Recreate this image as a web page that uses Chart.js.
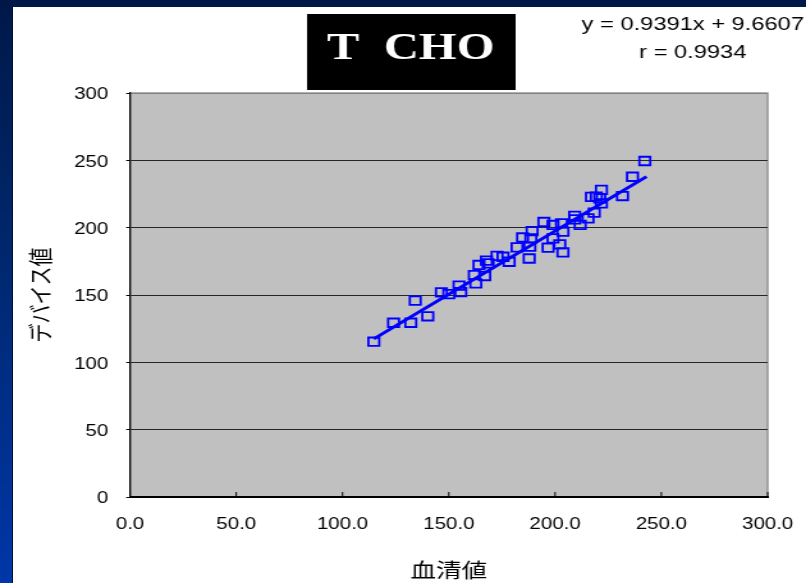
<!DOCTYPE html>
<html lang="ja">
<head>
<meta charset="utf-8">
<title>T CHO</title>
<script src="https://cdn.jsdelivr.net/npm/chart.js@4.4.1/dist/chart.umd.min.js"></script>
<style>
  html, body { margin: 0; padding: 0; }
  body {
    width: 806px; height: 583px; overflow: hidden; position: relative;
    background: linear-gradient(to bottom, #001848 0%, #00286f 45%, #0036a8 100%);
  }
  .panel {
    position: absolute; left: 13px; top: 7px; right: 0; bottom: 0;
    background: #fff; box-shadow: -1px 0 0 #00103a;
  }
  /* the source slide was stretched sideways, so the canvas is too */
  .stage {
    position: absolute; left: 0; top: 0; width: 630px; height: 583px;
    transform: scaleX(1.2794); transform-origin: 0 0;
  }
  canvas { display: block; }
</style>
</head>
<body>
<div class="panel"></div>
<div class="stage">
  <canvas id="chart" width="630" height="583" style="width:630px;height:583px"></canvas>
</div>
<script>
// 血清値 (x) / デバイス値 (y)
const serumValues = [
  114.7, 124.0, 132.1, 134.2, 140.1, 146.5, 150.0, 154.8, 155.6, 162.0,
  162.7, 164.2, 166.9, 167.7, 168.5, 172.7, 175.5, 178.4, 182.1, 184.7,
  187.8, 188.1, 188.6, 189.2, 194.7, 196.7, 199.0, 199.0, 202.2, 203.0,
  203.7, 203.7, 209.2, 209.2, 211.8, 215.5, 218.4, 217.1, 219.4, 221.8,
  221.0, 221.8, 231.7, 236.4, 242.2
];
const deviceValues = [
  115.3, 129.4, 129.4, 145.8, 134.2, 151.9, 150.7, 156.9, 152.1, 164.8,
  158.7, 172.3, 164.1, 175.5, 173.5, 179.0, 178.4, 174.7, 185.4, 192.7,
  177.1, 185.9, 192.1, 197.5, 204.2, 185.1, 202.0, 192.1, 187.6, 203.2,
  197.0, 181.7, 208.7, 206.2, 202.0, 206.9, 211.1, 222.9, 223.0, 228.0,
  221.8, 218.1, 223.5, 237.8, 249.5
];

// regression line end points
const trendX = [114.7, 243.0];
const trendY = [117.4, 237.9];

const xTicks = [0, 50, 100, 150, 200, 250, 300];
const yTicks = [0, 50, 100, 150, 200, 250, 300];

const titleText = 'T  CHO';
const equationLines = ['y = 0.9391x + 9.6607', 'r = 0.9934'];

const SANS = "'Liberation Sans', Arial, sans-serif";
const CJK = "'Noto Sans CJK JP', 'Noto Sans CJK SC', sans-serif";

// gray plot area, frame and inward x ticks
const plotFrame = {
  id: 'plotFrame',
  beforeDraw(chart) {
    const { ctx, chartArea: a } = chart;
    ctx.save();
    ctx.fillStyle = '#c0c0c0';
    ctx.fillRect(a.left, a.top, a.width, a.height);
    ctx.strokeStyle = '#808080';
    ctx.lineWidth = 1.2;
    ctx.strokeRect(a.left, a.top, a.width, a.height);
    ctx.restore();
  },
  beforeDatasetsDraw(chart) {
    const { ctx, chartArea: a, scales: { x } } = chart;
    ctx.save();
    ctx.strokeStyle = '#000';
    ctx.lineWidth = 1;
    x.ticks.forEach(t => {
      const px = x.getPixelForValue(t.value);
      ctx.beginPath();
      ctx.moveTo(px, a.bottom);
      ctx.lineTo(px, a.bottom - 5);
      ctx.stroke();
    });
    ctx.restore();
  }
};

// black title box and regression text
const headerText = {
  id: 'headerText',
  afterDraw(chart) {
    const ctx = chart.ctx;
    ctx.save();
    ctx.fillStyle = '#000';
    ctx.fillRect(240, 14, 163, 76);
    ctx.fillStyle = '#fff';
    ctx.font = "bold 38px 'Liberation Serif', 'DejaVu Serif', serif";
    ctx.textAlign = 'center';
    ctx.textBaseline = 'alphabetic';
    ctx.fillText(titleText, 321, 59);

    ctx.fillStyle = '#000';
    ctx.font = '18.5px ' + SANS;
    ctx.textBaseline = 'middle';
    equationLines.forEach((line, i) => ctx.fillText(line, 541.5, 25 + i * 27.5));
    ctx.restore();
  }
};

new Chart(document.getElementById('chart'), {
  type: 'scatter',
  data: {
    datasets: [
      {
        type: 'line',
        data: trendX.map((x, i) => ({ x, y: trendY[i] })),
        borderColor: '#0000ff',
        borderWidth: 3,
        pointRadius: 0,
        fill: false,
        order: 0
      },
      {
        data: serumValues.map((x, i) => ({ x, y: deviceValues[i] })),
        pointStyle: 'rect',
        pointRadius: 6,
        borderColor: '#0000ff',
        borderWidth: 1.8,
        backgroundColor: 'rgba(0,0,0,0)',
        order: 1
      }
    ]
  },
  options: {
    responsive: false,
    animation: false,
    devicePixelRatio: 1,
    layout: { padding: { top: 93, right: 30, left: 0, bottom: 0 } },
    plugins: {
      legend: { display: false },
      tooltip: { enabled: false }
    },
    scales: {
      x: {
        type: 'linear',
        min: 0,
        max: 300,
        afterBuildTicks: s => { s.ticks = xTicks.map(v => ({ value: v })); },
        afterFit: s => {
          s.height = 86;
          // end labels may hang past the plot, as in the original
          s.paddingLeft = 0;
          s.paddingRight = 0;
        },
        grid: { drawOnChartArea: false, drawTicks: false },
        border: { color: '#000', width: 2 },
        ticks: {
          color: '#000',
          padding: 18,
          autoSkip: false,
          maxRotation: 0,
          font: { family: SANS, size: 16 },
          callback: v => v.toFixed(1)
        },
        title: {
          display: true,
          text: '血清値',
          color: '#000',
          font: { family: CJK, size: 20 },
          padding: { top: 0, bottom: 1 }
        }
      },
      y: {
        type: 'linear',
        min: 0,
        max: 300,
        afterBuildTicks: s => { s.ticks = yTicks.map(v => ({ value: v })); },
        afterFit: s => { s.width = 101.6; },
        grid: {
          color: c => (c.tick && c.tick.value === 300 ? '#808080' : '#262626'),
          lineWidth: 1,
          drawTicks: true,
          tickLength: 3,
          tickColor: '#000'
        },
        border: { color: '#000', width: 1.3 },
        ticks: {
          color: '#000',
          padding: 14,
          labelOffset: 2,
          font: { family: SANS, size: 16 }
        },
        title: {
          display: true,
          text: 'デバイス値',
          color: '#000',
          font: { family: CJK, size: 19 },
          padding: { top: 20, bottom: 0 }
        }
      }
    }
  },
  plugins: [plotFrame, headerText]
});
</script>
</body>
</html>
